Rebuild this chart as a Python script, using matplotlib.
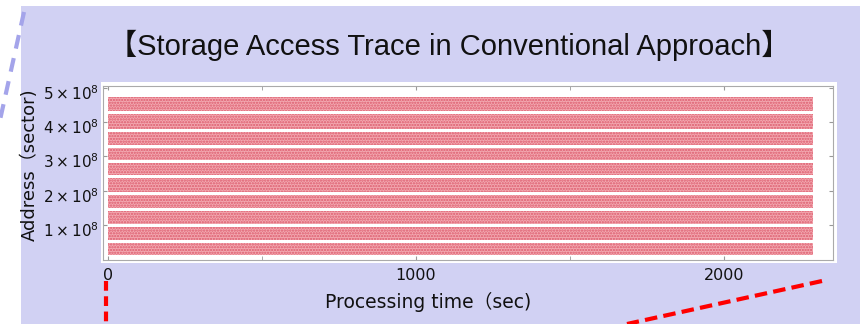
import matplotlib
matplotlib.use("Agg")
import matplotlib.pyplot as plt
from matplotlib.patches import Rectangle
from matplotlib.lines import Line2D
from matplotlib.transforms import ScaledTranslation
from matplotlib.ticker import MultipleLocator

plt.rcParams['font.family'] = ['DejaVu Sans', 'Noto Sans CJK JP']
plt.rcParams['mathtext.fontset'] = 'dejavusans'
plt.rcParams['mathtext.default'] = 'regular'
plt.rcParams['lines.scale_dashes'] = False
plt.rcParams['hatch.linewidth'] = 1.1

# Address bands touched by the trace (units of 1e8 sectors)
band_low = [0.12, 0.57, 1.03, 1.50, 1.96, 2.45, 2.90, 3.34, 3.80, 4.32]
band_high = [0.47, 0.94, 1.41, 1.87, 2.37, 2.81, 3.24, 3.71, 4.24, 4.73]
trace_start = 0
trace_end = 2290  # sec

y_ticks = [1, 2, 3, 4, 5]
y_tick_labels = [rf"${k}\times10^{{8}}$" for k in y_ticks]
x_ticks = [0, 1000, 2000]

W, H = 860, 324
fig = plt.figure(figsize=(W / 100, H / 100), dpi=100)
fig.patch.set_facecolor('white')

def fx(px):
    return px / W

def fy(py):
    return 1 - py / H

# slide background
fig.add_artist(Rectangle((fx(21), 0), 1 - fx(21), fy(6), transform=fig.transFigure,
                         facecolor='#d1d1f3', edgecolor='none', zorder=0))
# white card behind the plot
fig.add_artist(Rectangle((fx(101), fy(263)), fx(837) - fx(101), fy(82) - fy(263),
                         transform=fig.transFigure, facecolor='white',
                         edgecolor='none', zorder=0.5))

ax = fig.add_axes([fx(103), fy(260), fx(833) - fx(103), fy(86) - fy(260)])
ax.set_facecolor('white')
ax.set_zorder(1)

for lo, hi in zip(band_low, band_high):
    ax.fill_between([trace_start, trace_end], lo * 1e8, hi * 1e8,
                    facecolor='#f3a9b1', edgecolor='#dc5a6c', hatch='......',
                    linewidth=0)

ax.set_xlim(-16, 2355)
ax.set_ylim(-0.02e8, 5.05e8)

ax.set_xticks(x_ticks)
ax.xaxis.set_minor_locator(MultipleLocator(500))
ax.set_yticks([v * 1e8 for v in y_ticks])
ax.set_yticklabels(y_tick_labels)
ax.tick_params(axis='both', which='both', direction='in', length=3, color='#999999',
               top=True, right=True, labelcolor='#111111')
ax.tick_params(axis='x', pad=6, labelsize=11.5)
ax.tick_params(axis='y', pad=3, labelsize=11)
for lab in ax.get_yticklabels():
    lab.set_transform(lab.get_transform() + ScaledTranslation(0, -0.04, fig.dpi_scale_trans))
for s in ax.spines.values():
    s.set_color('#aaaaaa')
    s.set_linewidth(0.8)

fig.text(fx(449), fy(45), '【Storage Access Trace in Conventional Approach】',
         ha='center', va='center', fontsize=21,
         family=['Liberation Sans', 'Noto Sans CJK JP'], color='#111111')
fig.text(fx(428), fy(302), 'Processing time（sec)', ha='center', va='center',
         fontsize=13.5, color='#111111')
fig.text(fx(30), fy(165), 'Address（sector)', ha='center', va='center',
         rotation=90, fontsize=13, color='#111111')

# callout lines
fig.add_artist(Line2D([fx(24), fx(0)], [fy(12), fy(120)], transform=fig.transFigure,
                      color='#a4a4ea', linewidth=3, dashes=(10, 7), zorder=2))
fig.add_artist(Line2D([fx(106), fx(106)], [fy(281), fy(324)], transform=fig.transFigure,
                      color='#ff0000', linewidth=3, dashes=(7, 4), zorder=2))
fig.add_artist(Line2D([fx(822), fx(627)], [fy(281), fy(324)], transform=fig.transFigure,
                      color='#ff0000', linewidth=3, dashes=(9, 4.5), zorder=2))

fig.savefig('out.png', dpi=100)
